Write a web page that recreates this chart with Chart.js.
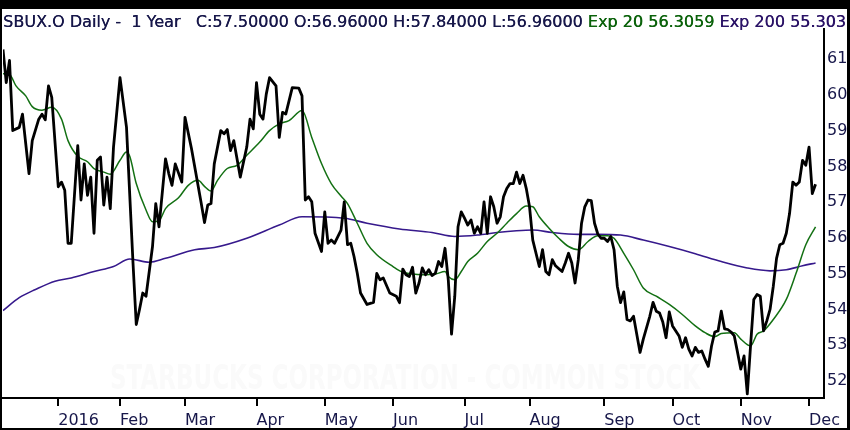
<!DOCTYPE html>
<html><head><meta charset="utf-8">
<style>
html,body{margin:0;padding:0;background:#000;overflow:hidden;width:850px;height:430px}
#wrap{position:absolute;left:0;top:0;width:850px;height:430px}
</style>
<script src="https://cdn.jsdelivr.net/npm/chart.js@4.4.1/dist/chart.umd.min.js"></script>
</head><body>
<div id="wrap"><canvas id="c" width="850" height="430"></canvas></div>
<script>
// ---- Data (trading-day index from the first visible session, value) ----
const priceDays = [0,1,2,3,5,6,8,9,11,12,13,14,15,17,18,19,20,21,23,24,25,26,27,28,29,30,31,32,33,34,36,38,40,41,42,43,44,46,47,48,50,51,52,53,55,56,58,59,61,62,63,64,65,67,68,69,70,71,73,75,76,77,78,79,80,81,82,84,85,86,87,89,91,92,93,94,95,96,98,99,100,101,102,104,105,106,107,108,109,110,112,114,115,116,117,119,121,122,123,124,125,126,127,128,129,130,131,132,133,134,135,136,137,138,139,140,141,142,143,144,145,146,147,148,149,150,151,152,153,154,155,156,157,158,159,160,161,162,163,165,166,167,168,169,170,172,173,174,175,176,177,178,179,180,181,182,183,184,185,186,187,188,189,190,191,192,193,194,196,197,199,200,201,202,203,204,205,206,208,209,210,211,212,213,214,215,216,217,218,219,220,221,222,223,224,225,226,227,228,229,230,231,232,233,234,235,236,237,238,239,240,241,242,243,244,245,246,247,248,249,250];
const priceClose = [61.27,60.34,60.96,59.00,59.09,59.46,57.80,58.72,59.32,59.46,59.30,60.25,59.93,57.43,57.56,57.33,55.85,55.85,58.58,57.06,58.07,57.19,57.70,56.13,58.17,58.26,56.92,57.70,56.82,58.54,60.48,59.09,55.30,53.58,54.00,54.46,54.37,55.76,56.96,56.31,58.21,57.80,57.47,58.07,57.56,59.37,58.49,57.98,56.96,56.43,56.92,56.96,58.07,59.00,58.91,59.03,58.44,58.72,57.70,58.54,59.32,59.05,60.34,59.46,59.32,60.02,60.48,60.25,58.81,59.51,59.46,60.20,60.19,59.97,57.06,57.15,57.01,56.13,55.62,56.73,55.85,55.94,55.85,56.22,57.01,55.81,55.85,55.48,55.01,54.46,54.14,54.20,55.01,54.83,54.88,54.46,54.37,54.19,55.13,54.97,54.92,55.18,54.46,54.74,55.16,54.97,55.11,54.95,55.01,55.34,55.20,55.71,54.83,53.31,54.37,56.31,56.73,56.55,56.36,56.50,56.13,56.31,56.13,57.01,56.13,57.15,56.87,56.41,56.59,57.15,57.38,57.52,57.52,57.84,57.52,57.75,57.38,56.87,55.94,55.20,55.67,55.06,54.97,55.39,55.22,55.06,55.30,55.57,55.30,54.74,55.39,56.41,56.87,57.06,57.04,56.41,56.11,55.99,55.99,55.90,56.04,55.67,54.65,54.19,54.49,53.72,53.68,53.81,52.80,53.17,53.81,54.20,53.95,53.90,53.65,53.21,53.93,53.54,53.26,52.94,53.21,52.89,52.70,52.94,52.80,52.84,52.61,52.41,52.98,53.37,53.40,53.95,53.46,53.44,53.37,53.26,52.80,52.33,52.70,51.64,52.98,54.28,54.42,54.37,53.40,53.68,54.00,54.65,55.43,55.81,55.85,56.13,56.68,57.56,57.47,57.56,58.17,58.03,58.54,57.24,57.50];

const ema20Days = [0,2,4,7,9,12,15,18,20,23,26,28,31,33,36,38,39,41,44,46,48,50,54,57,60,62,64,66,69,72,75,79,82,85,88,92,95,98,101,104,106,109,112,115,120,123,126,129,133,136,137,139,141,143,146,149,152,155,158,161,163,165,168,171,174,177,180,183,186,188,191,194,197,201,205,209,213,216,219,221,225,227,230,232,234,237,241,244,247,250];
const ema20Vals = [60.59,60.57,60.25,59.97,59.67,59.57,59.65,59.32,58.72,58.28,58.13,57.94,57.84,57.78,58.17,58.40,58.28,57.52,56.78,56.45,56.48,56.82,57.12,57.47,57.61,57.44,57.31,57.61,57.94,58.03,58.31,58.68,59.00,59.19,59.28,59.56,58.81,58.08,57.52,57.17,56.96,56.41,55.85,55.53,55.20,55.04,54.99,54.97,54.99,55.06,54.92,54.83,55.06,55.34,55.57,55.90,56.13,56.41,56.68,56.89,56.87,56.59,56.27,55.99,55.76,55.67,55.90,56.06,56.06,55.99,55.57,55.11,54.60,54.37,54.14,53.86,53.54,53.35,53.24,53.33,53.35,53.17,52.98,53.31,53.40,53.72,54.28,55.01,55.81,56.31];

const ema200Days = [0,5,10,16,21,28,34,39,45,50,59,65,75,85,92,105,112,122,132,139,146,152,158,163,169,177,183,190,197,205,213,221,229,236,241,246,250];
const ema200Vals = [53.97,54.33,54.56,54.79,54.88,55.06,55.20,55.41,55.32,55.43,55.67,55.73,55.99,56.36,56.59,56.55,56.41,56.25,56.15,56.04,56.08,56.15,56.20,56.22,56.15,56.10,56.10,56.08,55.94,55.76,55.56,55.34,55.16,55.08,55.11,55.22,55.30];

const monthDays = [17,36,56,78,99,120,142,162,185,206,227,248];
const monthLabels = ['2016','Feb','Mar','Apr','May','Jun','Jul','Aug','Sep','Oct','Nov','Dec'];
const yTicks = [52,53,54,55,56,57,58,59,60,61];

const titleParts = [
  ['SBUX.O Daily -  1 Year   C:57.50000 O:56.96000 H:57.84000 L:56.96000 ', '#17174a'],
  ['Exp 20 56.3059 ', '#0b620b'],
  ['Exp 200 55.3030', '#2a1266']
];
const watermark = 'STARBUCKS CORPORATION - COMMON STOCK';

// ---- Chart ----
const pts = (xs, ys) => xs.map((x, i) => ({x: x, y: ys[i]}));
const FONT = '"DejaVu Sans", Verdana, sans-serif';
const NAVY = '#17174a';

const framePlugin = {
  id: 'frame',
  beforeDraw(chart) {
    const ctx = chart.ctx;
    ctx.save();
    ctx.fillStyle = '#000';
    ctx.fillRect(0, 0, chart.width, chart.height);
    ctx.fillStyle = '#fff';
    ctx.fillRect(2, 9, 845, 419);
    // watermark
    ctx.font = 'bold 34px ' + FONT;
    const w = ctx.measureText(watermark).width;
    const target = 590;
    ctx.translate(110, 389);
    ctx.scale(target / w, 1);
    ctx.fillStyle = '#fafafa';
    ctx.textBaseline = 'alphabetic';
    ctx.fillText(watermark, 0, 0);
    ctx.restore();
  },
  afterDraw(chart) {
    const ctx = chart.ctx;
    ctx.save();
    ctx.beginPath();
    ctx.rect(2, 9, 845, 22);
    ctx.clip();
    ctx.font = '16px ' + FONT;
    const w0 = ctx.measureText(titleParts[0][0]).width;
    const size = 16 * 585 / w0;
    ctx.font = size.toFixed(2) + 'px ' + FONT;
    ctx.textBaseline = 'alphabetic';
    let x = 3;
    for (const [t, c] of titleParts) {
      ctx.fillStyle = c;
      ctx.fillText(t, x, 27);
      // slight double-strike to mimic heavier rendering
      ctx.fillText(t, x + 0.35, 27);
      x += ctx.measureText(t).width;
    }
    ctx.restore();
  }
};

new Chart(document.getElementById('c'), {
  type: 'line',
  data: {
    datasets: [
      {label: 'SBUX.O', data: pts(priceDays, priceClose), borderColor: '#000', borderWidth: 2.8, pointRadius: 0, tension: 0, borderJoinStyle: 'round'},
      {label: 'Exp 20', data: pts(ema20Days, ema20Vals), borderColor: '#137013', borderWidth: 1.5, pointRadius: 0, cubicInterpolationMode: 'monotone'},
      {label: 'Exp 200', data: pts(ema200Days, ema200Vals), borderColor: '#36198c', borderWidth: 1.6, pointRadius: 0, cubicInterpolationMode: 'monotone'}
    ]
  },
  options: {
    responsive: false,
    animation: false,
    devicePixelRatio: 1,
    layout: {padding: {left: 3, top: 29, right: 0, bottom: 0}},
    plugins: {legend: {display: false}, tooltip: {enabled: false}, title: {display: false}},
    scales: {
      x: {
        type: 'linear', min: 0, max: 252.6,
        afterFit(s) { s.height = 32; },
        afterBuildTicks(s) { s.ticks = monthDays.map(v => ({value: v})); },
        grid: {drawOnChartArea: false, drawTicks: true, tickLength: 8, color: '#000', lineWidth: 2},
        border: {display: true, color: '#000', width: 2},
        ticks: {
          autoSkip: false, maxRotation: 0, align: 'start', padding: 5,
          color: NAVY, font: {family: FONT, size: 16},
          callback: (v, i) => monthLabels[i]
        }
      },
      y: {
        type: 'linear', position: 'right', min: 51.525, max: 61.84,
        afterFit(s) { s.width = 26; },
        afterBuildTicks(s) { s.ticks = yTicks.map(v => ({value: v})); },
        grid: {drawOnChartArea: false, drawTicks: false},
        border: {display: true, color: '#000', width: 2},
        ticks: {padding: 3, color: NAVY, font: {family: FONT, size: 16}, callback: v => String(v)}
      }
    }
  },
  plugins: [framePlugin]
});
</script>
</body></html>
